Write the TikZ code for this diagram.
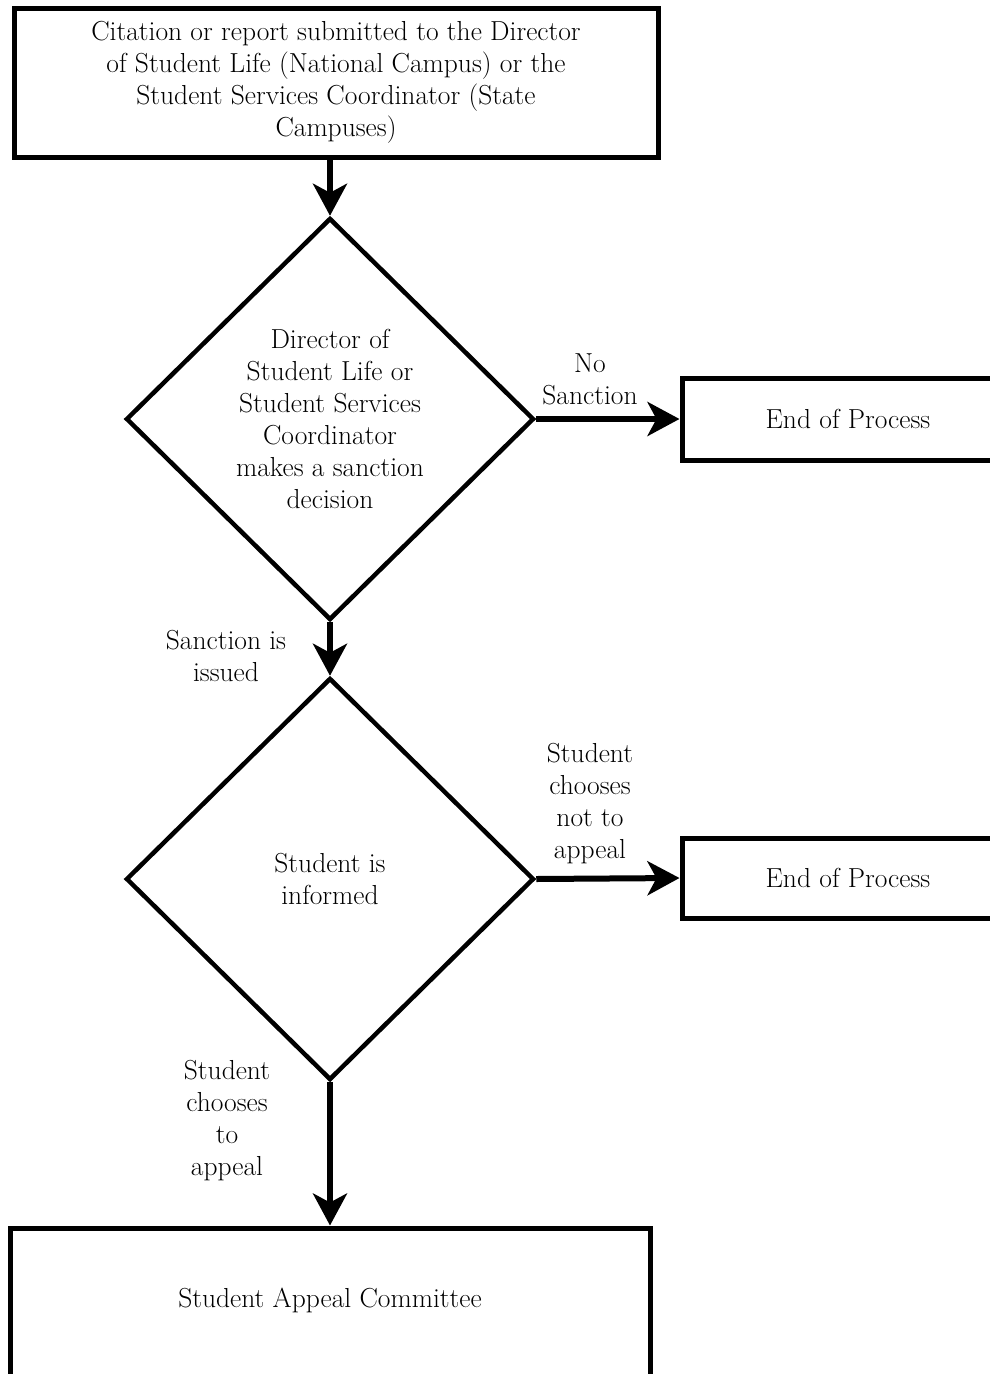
\documentclass[tikz,border=0pt]{standalone}
\usetikzlibrary{shapes.geometric,arrows.meta}
\begin{document}
\begin{tikzpicture}[x=1pt,y=-1pt,
  every node/.style={font=\fontsize{27.5}{32}\selectfont, align=center},
  boxnode/.style={draw, line width=5pt, rectangle, inner sep=0pt},
  dia/.style={draw, line width=4.5pt, diamond, inner sep=0pt, minimum width=408pt, minimum height=402pt},
  lbl/.style={inner sep=0pt},
  flow/.style={line width=6pt, -{Stealth[length=32pt,width=34pt,inset=9pt]}}
]
\useasboundingbox (0,0) rectangle (990,1374);
\clip (0,0) rectangle (990,1374);
\node[boxnode, minimum width=644pt, minimum height=149pt] (top) at (336,82.5)
  {Citation or report submitted to the Director\\ of Student Life (National Campus) or the\\ Student Services Coordinator (State\\ Campuses)};
\node[dia] (d1) at (330,419)
  {Director of\\ Student Life or\\ Student Services\\ Coordinator\\ makes a sanction\\ decision};
\node[boxnode, minimum width=332pt, minimum height=82pt] (e1) at (848,419) {End of Process};
\node[dia] (d2) at (330,879) {Student is\\ informed};
\node[boxnode, minimum width=332pt, minimum height=80pt] (e2) at (848,878) {End of Process};
\node[boxnode, minimum width=640pt, minimum height=170pt] (sac) at (330,1313) {};
\node[lbl] (sactext) at (330,1300) {Student Appeal Committee};

\draw[flow] (top.south -| d1.north) -- (d1.north);
\draw[flow] (d1.east) -- (e1.west);
\draw[flow] (d1.south) -- (d2.north);
\draw[flow] (d2.east) -- (e2.west);
\draw[flow] (d2.south) -- (d2.south |- sac.north);

\node[lbl] (l1) at (590,379) {No\\ Sanction};
\node[lbl] (l2) at (226,656) {Sanction is\\ issued};
\node[lbl] (l3) at (590,804) {Student\\ chooses\\ not to\\ appeal};
\node[lbl] (l4) at (227,1121) {Student\\ chooses\\ to\\ appeal};
\end{tikzpicture}
\end{document}
